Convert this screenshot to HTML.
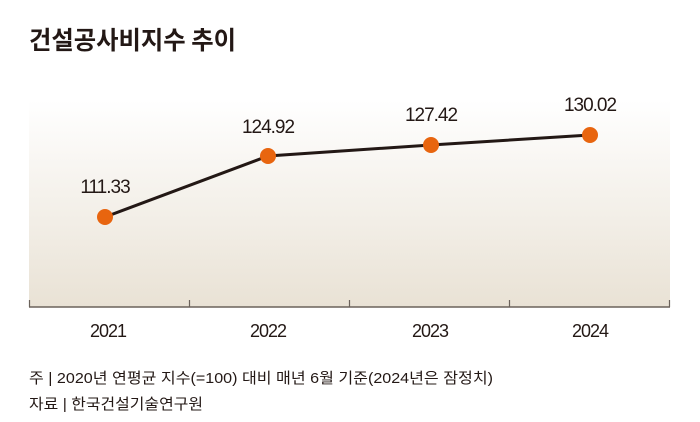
<!DOCTYPE html>
<html><head><meta charset="utf-8"><style>
html,body{margin:0;padding:0;background:#fff;width:700px;height:422px;overflow:hidden}
text{font-family:"Liberation Sans","Noto Sans CJK KR",sans-serif;fill:#231815}
</style></head><body>
<svg width="700" height="422" viewBox="0 0 700 422" xmlns="http://www.w3.org/2000/svg">
<defs><linearGradient id="g" x1="0" y1="0" x2="0" y2="1">
<stop offset="0" stop-color="#ffffff"/><stop offset="1" stop-color="#e9e2d5"/></linearGradient></defs>
<text x="29" y="49" font-size="25" font-weight="bold" style="font-family:'Noto Sans CJK KR',sans-serif" textLength="207" lengthAdjust="spacingAndGlyphs">건설공사비지수 추이</text>
<rect x="29" y="100" width="641" height="207" fill="url(#g)"/>
<line x1="29" y1="307" x2="670" y2="307" stroke="#6b625b" stroke-width="1.5"/>
<g stroke="#6b625b" stroke-width="1.2">
<line x1="29.5" y1="300" x2="29.5" y2="307"/><line x1="189.5" y1="300" x2="189.5" y2="307"/>
<line x1="349.5" y1="300" x2="349.5" y2="307"/><line x1="509.5" y1="300" x2="509.5" y2="307"/>
<line x1="669.5" y1="300" x2="669.5" y2="307"/></g>
<polyline points="105,217 268,156 431,145 590,135" fill="none" stroke="#231815" stroke-width="3"/>
<g fill="#e8650f"><circle cx="105" cy="217" r="8"/><circle cx="268" cy="156" r="8"/><circle cx="431" cy="145" r="8"/><circle cx="590" cy="135" r="8"/></g>
<g font-size="19" text-anchor="middle" letter-spacing="-1">
<text x="105" y="193">111.33</text><text x="268" y="133">124.92</text>
<text x="431" y="121">127.42</text><text x="590" y="111">130.02</text></g>
<g font-size="18" text-anchor="middle" letter-spacing="-1">
<text x="108" y="337">2021</text><text x="268" y="337">2022</text>
<text x="430" y="337">2023</text><text x="590" y="337">2024</text></g>
<g font-size="15" style="font-family:'Liberation Sans','Noto Sans CJK KR',sans-serif" fill="#231815">
<text x="29" y="383" textLength="464" lengthAdjust="spacingAndGlyphs">주 | 2020년 연평균 지수(=100) 대비 매년 6월 기준(2024년은 잠정치)</text>
<text x="29" y="409" textLength="174" lengthAdjust="spacingAndGlyphs">자료 | 한국건설기술연구원</text></g>
</svg>
</body></html>
